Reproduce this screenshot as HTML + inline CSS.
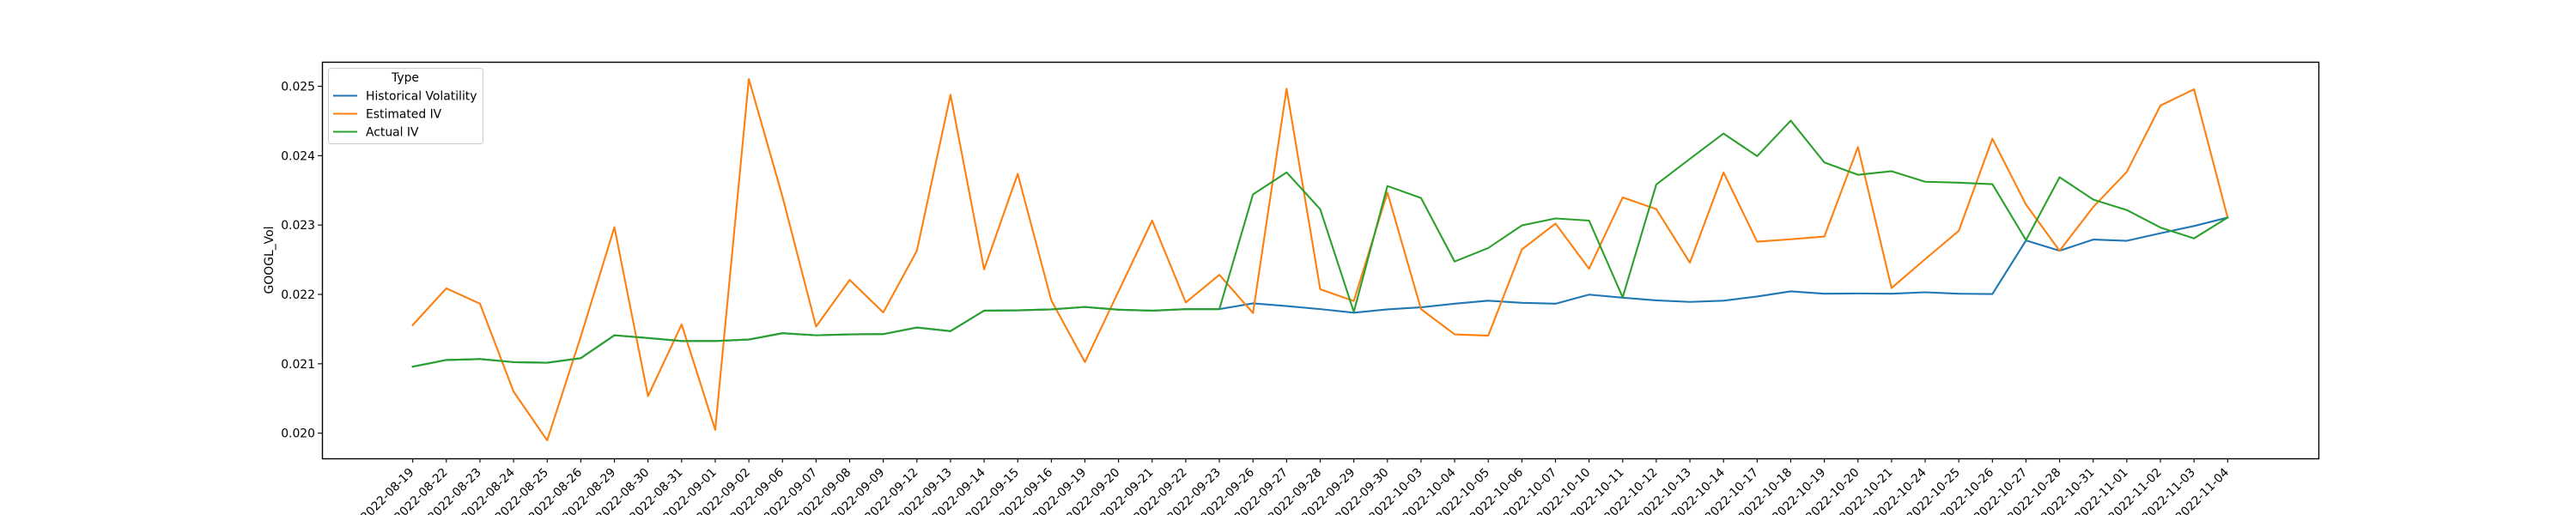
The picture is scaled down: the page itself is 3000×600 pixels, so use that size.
<!DOCTYPE html>
<html><head><meta charset="utf-8"><style>
html,body{margin:0;padding:0;background:#fff;}
svg{display:block;font-family:"DejaVu Sans","Liberation Sans",sans-serif;}
</style></head><body>
<svg id="chart" width="3000" height="600" viewBox="0 0 3000 600" xmlns="http://www.w3.org/2000/svg">
<rect x="0" y="0" width="3000" height="600" fill="#fff"/>
<g id="grid"></g>
<g id="series"></g>
<rect x="375.5" y="72.5" width="2325" height="462" fill="none" stroke="#000" stroke-width="1.4"/>
<g id="xaxis"></g>
<g id="yaxis"></g>
<text x="0" y="0" font-size="13.9" text-anchor="middle" transform="translate(318,303) rotate(-90)">GOOGL_Vol</text>
<g>
<rect x="382.5" y="79.5" width="180" height="88" rx="3" fill="#fff" fill-opacity="0.8" stroke="#ccc" stroke-width="1"/>
<text x="472" y="95" font-size="13.9" text-anchor="middle">Type</text>
<g><line x1="388" y1="111.5" x2="416" y2="111.5" stroke="#1f77b4" stroke-width="2.1"/><text x="426" y="116.5" font-size="13.9">Historical Volatility</text></g>
<g><line x1="388" y1="132.5" x2="416" y2="132.5" stroke="#ff7f0e" stroke-width="2.1"/><text x="426" y="137.5" font-size="13.9">Estimated IV</text></g>
<g><line x1="388" y1="153.5" x2="416" y2="153.5" stroke="#2ca02c" stroke-width="2.1"/><text x="426" y="158.5" font-size="13.9">Actual IV</text></g>
</g>
</svg>
<script>
const dates = ["2022-08-19","2022-08-22","2022-08-23","2022-08-24","2022-08-25","2022-08-26","2022-08-29","2022-08-30","2022-08-31","2022-09-01","2022-09-02","2022-09-06","2022-09-07","2022-09-08","2022-09-09","2022-09-12","2022-09-13","2022-09-14","2022-09-15","2022-09-16","2022-09-19","2022-09-20","2022-09-21","2022-09-22","2022-09-23","2022-09-26","2022-09-27","2022-09-28","2022-09-29","2022-09-30","2022-10-03","2022-10-04","2022-10-05","2022-10-06","2022-10-07","2022-10-10","2022-10-11","2022-10-12","2022-10-13","2022-10-14","2022-10-17","2022-10-18","2022-10-19","2022-10-20","2022-10-21","2022-10-24","2022-10-25","2022-10-26","2022-10-27","2022-10-28","2022-10-31","2022-11-01","2022-11-02","2022-11-03","2022-11-04"];
const historicalVol = [0.020959,0.021055,0.021068,0.021024,0.021016,0.021081,0.021411,0.021372,0.021328,0.021328,0.021350,0.021441,0.021411,0.021424,0.021428,0.021523,0.021471,0.021766,0.021771,0.021784,0.021819,0.021780,0.021766,0.021788,0.021788,0.021871,0.021832,0.021788,0.021736,0.021784,0.021814,0.021866,0.021910,0.021879,0.021866,0.021997,0.021953,0.021914,0.021892,0.021910,0.021970,0.022044,0.022010,0.022014,0.022010,0.022031,0.022010,0.022005,0.022778,0.022630,0.022791,0.022773,0.022882,0.022986,0.023108];
const estimatedIV = [0.021558,0.022088,0.021866,0.020599,0.019896,0.021393,0.022969,0.020534,0.021567,0.020048,0.025104,0.023411,0.021536,0.022209,0.021740,0.022630,0.024878,0.022361,0.023737,0.021914,0.021024,0.022044,0.023064,0.021884,0.022283,0.021732,0.024965,0.022075,0.021905,0.023468,0.021788,0.021424,0.021406,0.022648,0.023021,0.022370,0.023398,0.023229,0.022457,0.023759,0.022760,0.022795,0.022834,0.024123,0.022092,0.022509,0.022917,0.024245,0.023294,0.022630,0.023260,0.023767,0.024722,0.024957,0.023108];
const actualIV = [0.020959,0.021055,0.021068,0.021024,0.021016,0.021081,0.021411,0.021372,0.021328,0.021328,0.021350,0.021441,0.021411,0.021424,0.021428,0.021523,0.021471,0.021766,0.021771,0.021784,0.021819,0.021780,0.021766,0.021788,0.021788,0.023442,0.023759,0.023229,0.021749,0.023563,0.023390,0.022474,0.022669,0.022995,0.023095,0.023064,0.021957,0.023585,0.023954,0.024319,0.023993,0.024505,0.023902,0.023724,0.023776,0.023624,0.023611,0.023589,0.022782,0.023689,0.023368,0.023216,0.022964,0.022808,0.023108];
const yTicks = [0.020,0.021,0.022,0.023,0.024,0.025];
const yTickLabels = ["0.020","0.021","0.022","0.023","0.024","0.025"];

const NS="http://www.w3.org/2000/svg";
const L=375,R=2700,T=72,B=534;
const yMin=0.019637,yMax=0.025353;
const n=dates.length, pad=0.05*(n-1);
function xs(i){return L+(i+pad)/((n-1)+2*pad)*(R-L);}
function ys(v){return B-(v-yMin)/(yMax-yMin)*(B-T);}
function mk(tag,attrs,parent){const e=document.createElementNS(NS,tag);for(const k in attrs)e.setAttribute(k,attrs[k]);parent.appendChild(e);return e;}

const xa=document.getElementById('xaxis');
dates.forEach((d,i)=>{
  const x=xs(i);
  const t=mk('line',{x1:x,y1:B,x2:x,y2:B+4.9,stroke:'#000','stroke-width':1.1},xa);
  
  
  const tx=mk('text',{x:0,y:0,'font-size':13.9,'text-anchor':'end',transform:`translate(${x+2},${B+17}) rotate(-45)`},xa);
  tx.textContent=d;
  
  
});
const ya=document.getElementById('yaxis');
yTicks.forEach((v,i)=>{
  const y=ys(v);
  const t=mk('line',{x1:L-4.9,y1:y,x2:L,y2:y,stroke:'#000','stroke-width':1.1},ya);
  
  
  const tx=mk('text',{x:L-8,y:y+5,'font-size':13.9,'text-anchor':'end'},ya);
  tx.textContent=yTickLabels[i];
  
  
});
const sg=document.getElementById('series');
const series=[[historicalVol,'#1f77b4','historical-volatility-line'],[estimatedIV,'#ff7f0e','estimated-iv-line'],[actualIV,'#2ca02c','actual-iv-line']];
series.forEach(([arr,col,name])=>{
  const pts=arr.map((v,i)=>xs(i).toFixed(2)+','+ys(v).toFixed(2)).join(' ');
  const p=mk('polyline',{points:pts,fill:'none',stroke:col,'stroke-width':2.1,'stroke-linejoin':'round','stroke-linecap':'square'},sg);
  
  
});
</script>
</body></html>
